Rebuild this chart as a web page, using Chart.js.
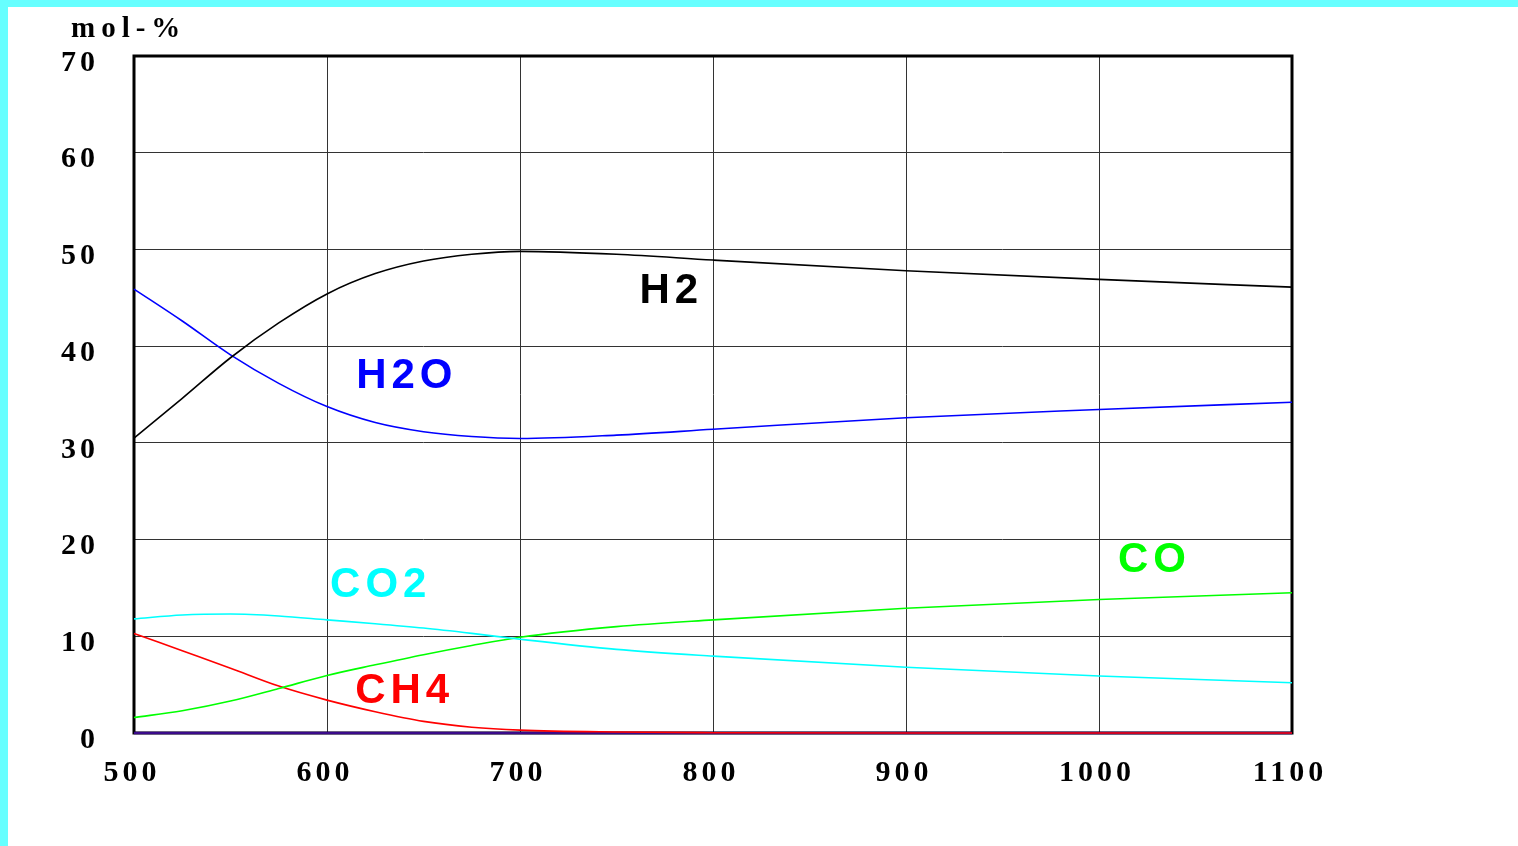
<!DOCTYPE html>
<html>
<head>
<meta charset="utf-8">
<script src="https://cdn.jsdelivr.net/npm/chart.js@4/dist/chart.umd.min.js"></script>
<style>
  html, body { margin: 0; padding: 0; background: #ffffff; overflow: hidden; }
  #wrap { width: 1510px; height: 839px; border-left: 8px solid #66ffff; border-top: 7px solid #66ffff; background: #ffffff; }
  canvas { display: block; }
</style>
</head>
<body>
<div id="wrap"><canvas id="c" width="1510" height="839"></canvas></div>
<script>
// ---- data (temperature in °C, composition in mol-%) ----
const temps = [500, 525, 550, 575, 600, 625, 650, 675, 700, 750, 800, 900, 1000, 1100];
const h2    = [30.5, 34.6, 38.8, 42.4, 45.4, 47.5, 48.8, 49.5, 49.8, 49.5, 48.9, 47.8, 46.9, 46.1];
const h2o   = [45.9, 42.6, 39.1, 36.15, 33.75, 32.1, 31.15, 30.65, 30.45, 30.8, 31.4, 32.6, 33.45, 34.2];
const co2   = [11.8, 12.2, 12.3, 12.1, 11.7, 11.3, 10.85, 10.3, 9.7, 8.65, 7.95, 6.8, 5.9, 5.2];
const co    = [1.6, 2.3, 3.3, 4.6, 5.95, 7.05, 8.1, 9.05, 9.9, 11.0, 11.7, 12.9, 13.8, 14.5];
const ch4   = [10.3, 8.5, 6.7, 4.85, 3.4, 2.2, 1.2, 0.6, 0.3, 0.1, 0.03, 0, 0, 0];
const carbon = [0, 0, 0, 0, 0, 0, 0, 0, 0, 0, 0, 0, 0, 0];

const yTitle = 'mol-%';
const seriesNames = ['H2', 'H2O', 'CO2', 'CO', 'CH4', 'C'];
// label anchors in data space (temperature, mol-%)
const labelT = [761.9, 615.1, 601.6, 1009.8, 614.6];
const labelV = [44.46, 35.67, 14.06, 16.65, 3.10];

const colors = ['#000000', '#0000ff', '#00ffff', '#00ff00', '#ff0000', '#3a0a8a'];
const seriesValues = [h2, h2o, co2, co, ch4, carbon];

const datasets = seriesValues.map((vals, i) => ({
  label: seriesNames[i],
  data: temps.map((t, k) => ({ x: t, y: vals[k] })),
  borderColor: colors[i],
  backgroundColor: colors[i],
  borderWidth: i === 5 ? 2.5 : 1.6,
  pointRadius: 0,
  fill: false,
  tension: 0.4,
  cubicInterpolationMode: 'monotone',
  clip: false
}));

const framePlugin = {
  id: 'frame',
  beforeDraw(chart) {
    chart.ctx.letterSpacing = '4px';
  },
  beforeDatasetsDraw(chart) {
    const { ctx, chartArea: a } = chart;
    ctx.save();
    ctx.strokeStyle = '#000000';
    ctx.lineWidth = 3;
    ctx.strokeRect(a.left, a.top, a.right - a.left, a.bottom - a.top);
    ctx.restore();
  },
  afterDatasetsDraw(chart) {
    const { ctx } = chart;
    const xs = chart.scales.x, ys = chart.scales.y;
    ctx.save();
    ctx.textAlign = 'left';
    ctx.textBaseline = 'alphabetic';
    ctx.font = 'bold 42px "Liberation Sans", Arial, sans-serif';
    ctx.letterSpacing = '5px';
    for (let i = 0; i < labelT.length; i++) {
      ctx.fillStyle = colors[i];
      ctx.fillText(seriesNames[i], xs.getPixelForValue(labelT[i]), ys.getPixelForValue(labelV[i]));
    }
    ctx.fillStyle = '#000000';
    ctx.font = 'bold 29px "Liberation Serif", "Times New Roman", serif';
    ctx.letterSpacing = '6px';
    ctx.fillText(yTitle, 63, 30);
    ctx.restore();
  }
};

new Chart(document.getElementById('c').getContext('2d'), {
  type: 'line',
  data: { datasets },
  options: {
    responsive: false,
    devicePixelRatio: 1,
    animation: false,
    layout: { padding: { left: 0, top: 49, right: 226, bottom: 0 } },
    plugins: { legend: { display: false }, tooltip: { enabled: false } },
    scales: {
      x: {
        type: 'linear',
        min: 500, max: 1100,
        ticks: {
          stepSize: 100,
          color: '#000000',
          padding: 22,
          labelOffset: -2,
          callback: (v) => String(v),
          font: { family: '"Liberation Serif", "Times New Roman", serif', size: 30, weight: 'bold' }
        },
        grid: { color: '#333333', lineWidth: 1, drawTicks: false },
        border: { display: false },
        afterFit(scale) { scale.height = 113; scale.paddingLeft = 0; scale.paddingRight = 0; }
      },
      y: {
        min: 0, max: 70,
        ticks: {
          stepSize: 10,
          color: '#000000',
          padding: 35,
          labelOffset: 7,
          callback: (v) => String(v),
          font: { family: '"Liberation Serif", "Times New Roman", serif', size: 30, weight: 'bold' }
        },
        grid: { color: '#333333', lineWidth: 1, drawTicks: false },
        border: { display: false },
        afterFit(scale) { scale.width = 126; scale.paddingTop = 0; scale.paddingBottom = 0; }
      }
    }
  },
  plugins: [framePlugin]
});
</script>
</body>
</html>
